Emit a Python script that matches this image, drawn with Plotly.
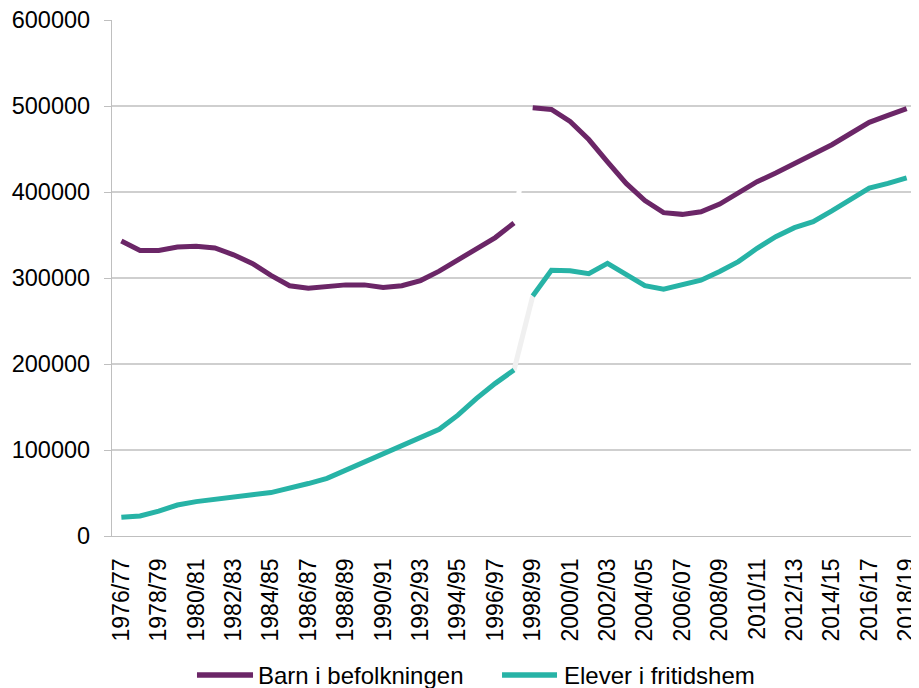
import plotly.graph_objects as go

categories = [
    "1976/77", "1977/78", "1978/79", "1979/80", "1980/81", "1981/82", "1982/83",
    "1983/84", "1984/85", "1985/86", "1986/87", "1987/88", "1988/89", "1989/90",
    "1990/91", "1991/92", "1992/93", "1993/94", "1994/95", "1995/96", "1996/97",
    "1997/98", "1998/99", "1999/00", "2000/01", "2001/02", "2002/03", "2003/04",
    "2004/05", "2005/06", "2006/07", "2007/08", "2008/09", "2009/10", "2010/11",
    "2011/12", "2012/13", "2013/14", "2014/15", "2015/16", "2016/17", "2017/18",
    "2018/19",
]

barn = [
    343000, 332000, 332000, 336000, 337000, 335000, 327000, 317000, 303000, 291000,
    288000, 290000, 292000, 292000, 289000, 291000, 297000, 308000, 321000, 334000,
    347000, 364000,
    498000, 496000, 482000, 461000, 435000, 410000, 390000, 376000, 374000, 377000,
    386000, 399000, 412000, 422000, 433000, 445000, 455000, 468000, 481000, 489000,
    497000,
]

elever = [
    21700, 23300, 29000, 36000, 40000, 43000, 45500, 48000, 50500, 55500,
    61000, 67000, 76500, 86500, 95500, 104000, 114500, 124000, 140500, 160000,
    177500, 193000,
    279000, 309000, 308500, 305000, 317000, 304500, 291000, 287000, 292500, 297500,
    307500, 319000, 334500, 348000, 358500, 365500, 378000, 392000, 404500, 410000,
    416500,
]

series_names = ["Barn i befolkningen", "Elever i fritidshem"]
tick_labels = categories[::2]
y_ticks = [0, 100000, 200000, 300000, 400000, 500000, 600000]
break_index = 22  # series break between 1997/98 and 1998/99

PURPLE = "#6B2667"
TEAL = "#27B3A6"
GRID = "#BFBFBF"
FONT = "Liberation Sans, Arial, sans-serif"

fig = go.Figure()

# horizontal gridlines (none at the top edge)
for v in y_ticks[1:-1]:
    fig.add_shape(type="line", xref="paper", x0=0, x1=1, yref="y", y0=v, y1=v,
                  line=dict(color=GRID, width=1.3), layer="below")

# light connector segments across the break
for vals, ccol in ((barn, "#FFFFFF"), (elever, "#F0F0F0")):
    fig.add_trace(go.Scatter(
        x=categories[break_index - 1:break_index + 1],
        y=vals[break_index - 1:break_index + 1],
        mode="lines", line=dict(color=ccol, width=5),
        showlegend=False, hoverinfo="skip",
    ))

for name, vals, color in ((series_names[0], barn, PURPLE), (series_names[1], elever, TEAL)):
    xs = categories[:break_index] + [None] + categories[break_index:]
    ys = vals[:break_index] + [None] + vals[break_index:]
    fig.add_trace(go.Scatter(
        x=xs, y=ys, name=name, mode="lines",
        line=dict(color=color, width=5),
        connectgaps=False, showlegend=False,
    ))

# legend drawn as sample lines + text (longer samples than the built-in legend)
legend_items = [
    (series_names[0], PURPLE, 0.1057, 0.1754, 0.1791),
    (series_names[1], TEAL, 0.4851, 0.5535, 0.5597),
]
for name, color, lx0, lx1, tx in legend_items:
    fig.add_shape(type="line", xref="paper", yref="paper", x0=lx0, x1=lx1,
                  y0=-0.2694, y1=-0.2694, line=dict(color=color, width=5.5))
    fig.add_annotation(xref="paper", yref="paper", x=tx, y=-0.2713,
                       xanchor="left", yanchor="middle", showarrow=False,
                       text=name, font=dict(size=24, color="#000000"))

# page body has an 8px margin, so the figure is 8px smaller than the window
fig.update_layout(
    width=911, height=680,
    margin=dict(l=104, r=3, t=12, b=152, autoexpand=False),
    paper_bgcolor="white", plot_bgcolor="white",
    font=dict(family=FONT, size=24, color="#000000"),
    showlegend=False,
)

fig.update_xaxes(
    type="category", categoryorder="array", categoryarray=categories,
    range=[-0.5, len(categories) - 0.5], automargin=False,
    tickmode="array", tickvals=tick_labels, ticktext=tick_labels,
    tickangle=-90, showgrid=False,
    showline=True, linecolor=GRID, linewidth=1.3,
    ticks="", ticklabelstandoff=12, ticklabeloverflow="allow",
    tickfont=dict(size=23),
)

fig.update_yaxes(
    range=[0, 600000], tickmode="array", tickvals=y_ticks, automargin=False,
    ticktext=[str(v) for v in y_ticks],
    showgrid=False, zeroline=False,
    showline=True, linecolor=GRID, linewidth=1.3,
    ticks="outside", ticklen=7, tickcolor=GRID, tickwidth=1.3,
    ticklabelstandoff=9, ticklabeloverflow="allow",
    tickfont=dict(size=23.5),
)

fig.write_html("out.html")
